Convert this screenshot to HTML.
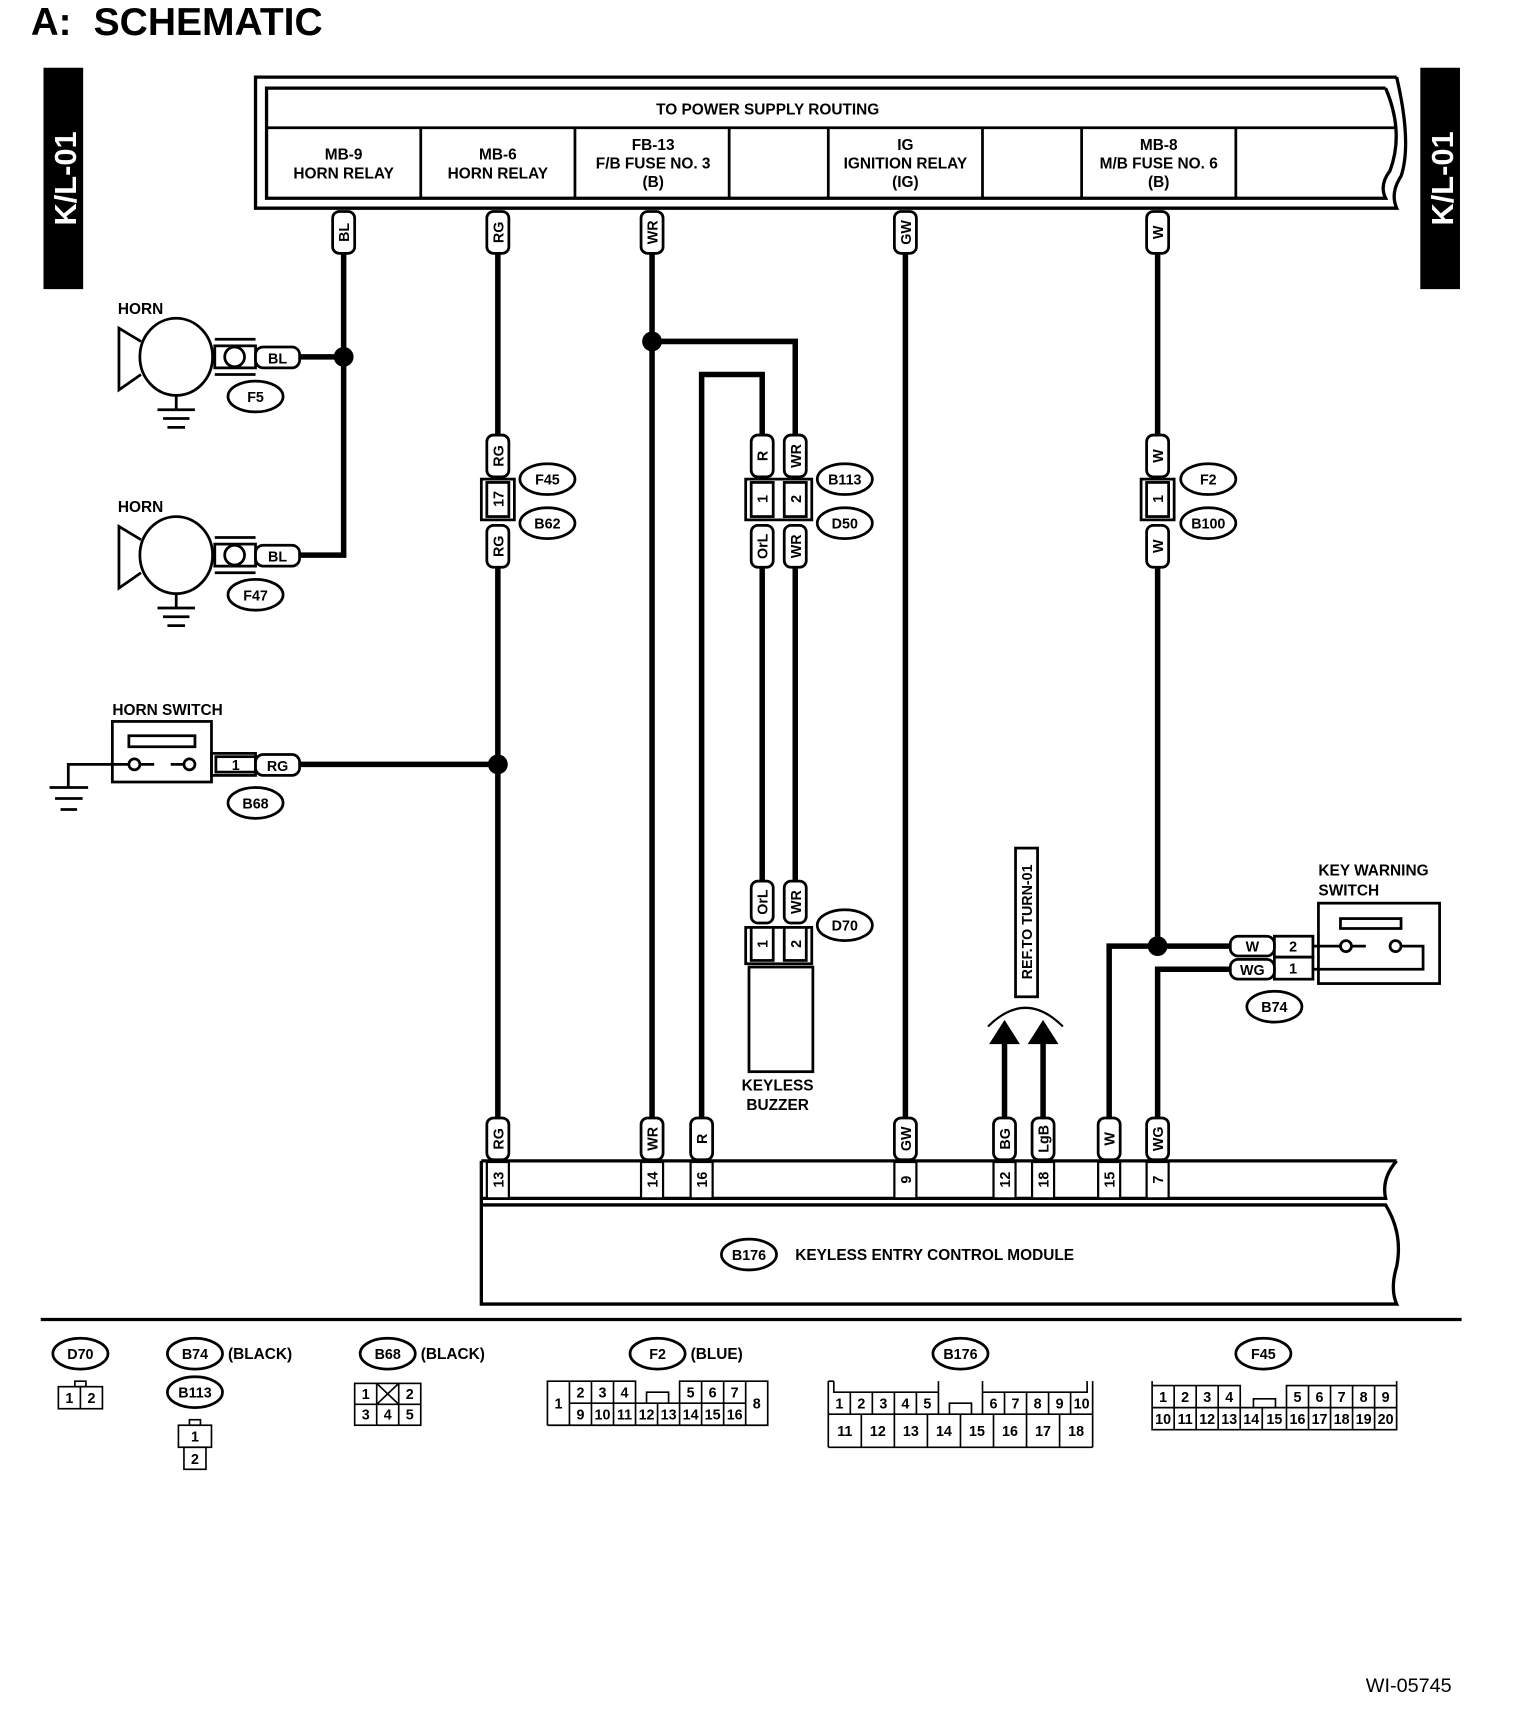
<!DOCTYPE html>
<html><head><meta charset="utf-8"><style>
html,body{margin:0;padding:0;background:#fff}
svg{display:block}
text{font-family:"Liberation Sans",sans-serif;font-weight:bold;fill:#000}
</style></head><body>
<svg width="1520" height="1730" viewBox="0 0 1380 1570.7" preserveAspectRatio="none" xmlns="http://www.w3.org/2000/svg">
<g fill="none" stroke="#000">
<text x="28" y="32" font-size="35" stroke="none">A:</text>
<text x="85" y="32" font-size="35" stroke="none" textLength="208" lengthAdjust="spacingAndGlyphs">SCHEMATIC</text>
<rect x="40" y="62" width="35" height="200" fill="#000"/>
<rect x="1290" y="62" width="35" height="200" fill="#000"/>
<text transform="translate(69,162) rotate(-90)" text-anchor="middle" font-size="28" stroke="none" style="fill:#fff">K/L-01</text>
<text transform="translate(1319,162) rotate(-90)" text-anchor="middle" font-size="28" stroke="none" style="fill:#fff">K/L-01</text>

<path d="M1268 70 H232 V189 H1268 Q1262 175 1272 160 Q1282 130 1268 70" stroke-width="3"/>
<path d="M1258 80 H242 V180 H1258 Q1252 168 1262 155 Q1275 120 1258 80" stroke-width="3"/>
<line x1="242" y1="116" x2="1268" y2="116" stroke-width="2.5"/>
<g stroke-width="2.5"><line x1="382" y1="116" x2="382" y2="180"/><line x1="522" y1="116" x2="522" y2="180"/><line x1="662" y1="116" x2="662" y2="180"/><line x1="752" y1="116" x2="752" y2="180"/><line x1="892" y1="116" x2="892" y2="180"/><line x1="982" y1="116" x2="982" y2="180"/><line x1="1122" y1="116" x2="1122" y2="180"/></g>
<g font-size="14" text-anchor="middle" stroke="none">
<text x="697" y="104">TO POWER SUPPLY ROUTING</text>
<text x="312" y="145">MB-9</text><text x="312" y="162">HORN RELAY</text>
<text x="452" y="145">MB-6</text><text x="452" y="162">HORN RELAY</text>
<text x="593" y="136">FB-13</text><text x="593" y="153">F/B FUSE NO. 3</text><text x="593" y="170">(B)</text>
<text x="822" y="136">IG</text><text x="822" y="153">IGNITION RELAY</text><text x="822" y="170">(IG)</text>
<text x="1052" y="136">MB-8</text><text x="1052" y="153">M/B FUSE NO. 6</text><text x="1052" y="170">(B)</text>
</g>

<g stroke-width="5">
<path d="M312 230 V504 H272 M312 324 H272"/>
<path d="M452 230 V395 M452 515 V1015 M272 694 H452"/>
<path d="M592 230 V1015 M592 310 H722 V395 M722 515 V800"/>
<path d="M637 1015 V340 H692 V395 M692 515 V800"/>
<path d="M822 230 V1015"/>
<path d="M1051 230 V395 M1051 515 V859 M1117 859 H1007 V1015 M1117 880 H1051 V1015"/>
<path d="M912 945 V1015 M947 945 V1015"/>
</g>
<g fill="#000" stroke="none">
<circle cx="312" cy="324" r="9"/><circle cx="452" cy="694" r="9"/><circle cx="592" cy="310" r="9"/><circle cx="1051" cy="859" r="9"/>
<path d="M912 926 L898 948 H926 Z"/><path d="M947 926 L933 948 H961 Z"/>
</g>
<path d="M897 932 Q931 898 965 932" stroke-width="2"/>

<g stroke-width="2.5" fill="#fff">
<rect x="302" y="192" width="20" height="38" rx="6"/><rect x="442" y="192" width="20" height="38" rx="6"/><rect x="582" y="192" width="20" height="38" rx="6"/><rect x="812" y="192" width="20" height="38" rx="6"/><rect x="1041" y="192" width="20" height="38" rx="6"/>
<rect x="442" y="395" width="20" height="38" rx="6"/><rect x="442" y="477" width="20" height="38" rx="6"/>
<rect x="682" y="395" width="20" height="38" rx="6"/><rect x="712" y="395" width="20" height="38" rx="6"/>
<rect x="682" y="477" width="20" height="38" rx="6"/><rect x="712" y="477" width="20" height="38" rx="6"/>
<rect x="1041" y="395" width="20" height="38" rx="6"/><rect x="1041" y="477" width="20" height="38" rx="6"/>
<rect x="682" y="800" width="20" height="38" rx="6"/><rect x="712" y="800" width="20" height="38" rx="6"/>
<rect x="442" y="1015" width="20" height="38" rx="6"/><rect x="582" y="1015" width="20" height="38" rx="6"/><rect x="627" y="1015" width="20" height="38" rx="6"/><rect x="812" y="1015" width="20" height="38" rx="6"/><rect x="902" y="1015" width="20" height="38" rx="6"/><rect x="937" y="1015" width="20" height="38" rx="6"/><rect x="997" y="1015" width="20" height="38" rx="6"/><rect x="1041" y="1015" width="20" height="38" rx="6"/>
<rect x="922" y="770" width="20" height="135"/>
</g>
<g font-size="13" text-anchor="middle" stroke="none">
<text transform="translate(317,211) rotate(-90)">BL</text>
<text transform="translate(457,211) rotate(-90)">RG</text>
<text transform="translate(597,211) rotate(-90)">WR</text>
<text transform="translate(827,211) rotate(-90)">GW</text>
<text transform="translate(1056,211) rotate(-90)">W</text>
<text transform="translate(457,414) rotate(-90)">RG</text><text transform="translate(457,496) rotate(-90)">RG</text>
<text transform="translate(697,414) rotate(-90)">R</text><text transform="translate(727,414) rotate(-90)">WR</text>
<text transform="translate(697,496) rotate(-90)">OrL</text><text transform="translate(727,496) rotate(-90)">WR</text>
<text transform="translate(1056,414) rotate(-90)">W</text><text transform="translate(1056,496) rotate(-90)">W</text>
<text transform="translate(697,819) rotate(-90)">OrL</text><text transform="translate(727,819) rotate(-90)">WR</text>
<text transform="translate(457,1034) rotate(-90)">RG</text><text transform="translate(597,1034) rotate(-90)">WR</text><text transform="translate(642,1034) rotate(-90)">R</text><text transform="translate(827,1034) rotate(-90)">GW</text><text transform="translate(917,1034) rotate(-90)">BG</text><text transform="translate(952,1034) rotate(-90)">LgB</text><text transform="translate(1012,1034) rotate(-90)">W</text><text transform="translate(1056,1034) rotate(-90)">WG</text>
<text transform="translate(937,837) rotate(-90)">REF.TO TURN-01</text>
</g>

<g stroke-width="2.5" fill="#fff">
<rect x="437" y="435" width="30" height="37"/><rect x="442" y="438" width="20" height="31"/>
<rect x="677" y="435" width="60" height="37"/><rect x="682" y="438" width="20" height="31"/><rect x="712" y="438" width="20" height="31"/>
<rect x="1036" y="435" width="30" height="37"/><rect x="1041" y="438" width="20" height="31"/>
<rect x="677" y="842" width="60" height="33"/><rect x="682" y="842" width="20" height="30"/><rect x="712" y="842" width="20" height="30"/>
<rect x="680" y="878" width="58" height="95"/>
</g>
<g font-size="13" text-anchor="middle" stroke="none">
<text transform="translate(457,453) rotate(-90)">17</text>
<text transform="translate(697,453) rotate(-90)">1</text><text transform="translate(727,453) rotate(-90)">2</text>
<text transform="translate(1056,453) rotate(-90)">1</text>
<text transform="translate(697,857) rotate(-90)">1</text><text transform="translate(727,857) rotate(-90)">2</text>
<text x="706" y="990" font-size="14">KEYLESS</text><text x="706" y="1008" font-size="14">BUZZER</text>
</g>

<g stroke-width="2.5" fill="#fff">
<ellipse cx="232" cy="360" rx="25" ry="14"/><ellipse cx="232" cy="540" rx="25" ry="14"/><ellipse cx="232" cy="729" rx="25" ry="14"/>
<ellipse cx="497" cy="435" rx="25" ry="14"/><ellipse cx="497" cy="475" rx="25" ry="14"/>
<ellipse cx="767" cy="435" rx="25" ry="14"/><ellipse cx="767" cy="475" rx="25" ry="14"/><ellipse cx="767" cy="840" rx="25" ry="14"/>
<ellipse cx="1097" cy="435" rx="25" ry="14"/><ellipse cx="1097" cy="475" rx="25" ry="14"/><ellipse cx="1157" cy="914" rx="25" ry="14"/>
<ellipse cx="680" cy="1139" rx="25" ry="14"/>
<ellipse cx="73" cy="1229" rx="25" ry="14"/><ellipse cx="177" cy="1229" rx="25" ry="14"/><ellipse cx="177" cy="1264" rx="25" ry="14"/><ellipse cx="352" cy="1229" rx="25" ry="14"/><ellipse cx="597" cy="1229" rx="25" ry="14"/><ellipse cx="872" cy="1229" rx="25" ry="14"/><ellipse cx="1147" cy="1229" rx="25" ry="14"/>
</g>
<g font-size="13" text-anchor="middle" stroke="none">
<text x="232" y="365">F5</text><text x="232" y="545">F47</text><text x="232" y="734">B68</text>
<text x="497" y="440">F45</text><text x="497" y="480">B62</text>
<text x="767" y="440">B113</text><text x="767" y="480">D50</text><text x="767" y="845">D70</text>
<text x="1097" y="440">F2</text><text x="1097" y="480">B100</text><text x="1157" y="919">B74</text>
<text x="680" y="1144">B176</text>
<text x="73" y="1234">D70</text><text x="177" y="1234">B74</text><text x="177" y="1269">B113</text><text x="352" y="1234">B68</text><text x="597" y="1234">F2</text><text x="872" y="1234">B176</text><text x="1147" y="1234">F45</text>
</g>
<g font-size="14" stroke="none">
<text x="207" y="1234">(BLACK)</text><text x="382" y="1234">(BLACK)</text><text x="627" y="1234">(BLUE)</text>
<text x="722" y="1144">KEYLESS ENTRY CONTROL MODULE</text>
<text x="107" y="285">HORN</text><text x="107" y="465">HORN</text><text x="102" y="649">HORN SWITCH</text>
<text x="1197" y="795">KEY WARNING</text><text x="1197" y="813">SWITCH</text>
<text x="1240" y="1536" font-size="18" style="font-weight:normal">WI-05745</text>
</g>

<g stroke-width="2.5">
<g>
<path d="M128 310 L108 298 V354 L128 340"/>
<ellipse cx="160" cy="324" rx="33" ry="35" fill="#fff"/>
<path d="M160 359 V372 M143 372 H177 M148 380 H172 M152 388 H168"/>
<rect x="195" y="314" width="37" height="20"/><path d="M195 308 H232 M195 340 H232"/>
<ellipse cx="213" cy="324" rx="9" ry="9"/>
<rect x="232" y="315" width="40" height="19" rx="7" fill="#fff"/>
</g>
<g transform="translate(0,180)">
<path d="M128 310 L108 298 V354 L128 340"/>
<ellipse cx="160" cy="324" rx="33" ry="35" fill="#fff"/>
<path d="M160 359 V372 M143 372 H177 M148 380 H172 M152 388 H168"/>
<rect x="195" y="314" width="37" height="20"/><path d="M195 308 H232 M195 340 H232"/>
<ellipse cx="213" cy="324" rx="9" ry="9"/>
<rect x="232" y="315" width="40" height="19" rx="7" fill="#fff"/>
</g>
<rect x="102" y="655" width="90" height="55"/><rect x="117" y="668" width="60" height="10"/>
<circle cx="122" cy="694" r="5"/><circle cx="172" cy="694" r="5"/><path d="M127 694 H140 M167 694 H155 M117 694 H62 V715 M45 715 H80 M50 725 H75 M55 735 H70"/>
<rect x="192" y="684" width="40" height="20"/><rect x="196" y="687" width="36" height="14"/>
<rect x="232" y="685" width="40" height="19" rx="7" fill="#fff"/>
<rect x="1117" y="850" width="40" height="18" rx="7" fill="#fff"/><rect x="1117" y="871" width="40" height="18" rx="7" fill="#fff"/>
<rect x="1157" y="850" width="35" height="19"/><rect x="1157" y="869" width="35" height="20"/>
<rect x="1197" y="820" width="110" height="73"/><rect x="1217" y="834" width="55" height="9"/>
<circle cx="1222" cy="859" r="5"/><circle cx="1267" cy="859" r="5"/>
<path d="M1192 859 H1217 M1227 859 H1240 M1272 859 H1292 V880 H1192"/>
</g>
<g font-size="13" text-anchor="middle" stroke="none">
<text x="252" y="330">BL</text><text x="252" y="510">BL</text><text x="252" y="700">RG</text><text x="214" y="699">1</text>
<text x="1137" y="864">W</text><text x="1137" y="885">WG</text><text x="1174" y="864">2</text><text x="1174" y="884">1</text>
</g>

<path d="M437 1054 H1268" stroke-width="3"/>
<path d="M437 1054 V1184 H1268 Q1262 1170 1268 1150 Q1274 1120 1258 1094 H437 M437 1088 H1258 Q1254 1070 1268 1054" stroke-width="3"/>
<g stroke-width="2" fill="#fff">
<rect x="442" y="1055" width="20" height="33"/><rect x="582" y="1055" width="20" height="33"/><rect x="627" y="1055" width="20" height="33"/><rect x="812" y="1055" width="20" height="33"/><rect x="902" y="1055" width="20" height="33"/><rect x="937" y="1055" width="20" height="33"/><rect x="997" y="1055" width="20" height="33"/><rect x="1041" y="1055" width="20" height="33"/>
</g>
<g font-size="13" text-anchor="middle" stroke="none">
<text transform="translate(457,1071) rotate(-90)">13</text><text transform="translate(597,1071) rotate(-90)">14</text><text transform="translate(642,1071) rotate(-90)">16</text><text transform="translate(827,1071) rotate(-90)">9</text><text transform="translate(917,1071) rotate(-90)">12</text><text transform="translate(952,1071) rotate(-90)">18</text><text transform="translate(1012,1071) rotate(-90)">15</text><text transform="translate(1056,1071) rotate(-90)">7</text>
</g>
<line x1="37" y1="1198" x2="1327" y2="1198" stroke-width="3"/>

<g stroke-width="1.5">
<rect x="53" y="1259" width="40" height="20"/><line x1="73" y1="1259" x2="73" y2="1279"/><rect x="68" y="1254" width="10" height="5"/>
<rect x="162" y="1294" width="30" height="20"/><rect x="167" y="1314" width="20" height="20"/><rect x="172" y="1289" width="10" height="5"/>
<rect x="322" y="1256" width="60" height="38"/><path d="M322 1275 H382 M342 1256 V1294 M362 1256 V1294 M342 1256 L362 1275 M362 1256 L342 1275"/>
<path d="M497 1294 V1254 H517 M517 1254 V1294 M517 1274 H677 M517 1254 H577 V1274 M587 1274 V1264 H607 V1274 M617 1274 V1254 H677 V1294 M497 1294 H697 V1254 H677"/>
<path d="M537 1254 V1294 M557 1254 V1294 M597 1274 V1294 M637 1254 V1294 M657 1254 V1294 M577 1274 V1294 M617 1274 V1294"/>
<path d="M752 1284 H992 M752 1254 V1314 M992 1254 V1314 M752 1314 H992 M757 1254 V1264 H852 V1284 M757 1254 H752 M852 1254 V1264 M892 1254 V1264 H987 V1254 M862 1284 V1274 H882 V1284 M892 1264 V1284"/>
<path d="M772 1264 V1284 M792 1264 V1284 M812 1264 V1284 M832 1264 V1284 M912 1264 V1284 M932 1264 V1284 M952 1264 V1284 M972 1264 V1284 M782 1284 V1314 M812 1284 V1314 M842 1284 V1314 M872 1284 V1314 M902 1284 V1314 M932 1284 V1314 M962 1284 V1314"/>
<path d="M1046 1254 V1298 H1268 V1254 M1046 1278 H1268 M1046 1258 H1126 V1278 M1168 1278 V1258 H1268 M1138 1278 V1270 H1158 V1278"/>
<path d="M1066 1258 V1298 M1086 1258 V1298 M1106 1258 V1298 M1126 1278 V1298 M1146 1278 V1298 M1188 1258 V1298 M1208 1258 V1298 M1228 1258 V1298 M1248 1258 V1298 M1168 1278 V1298"/>
</g>
<g font-size="13" text-anchor="middle" stroke="none" style="font-weight:normal">
<text x="63" y="1274">1</text><text x="83" y="1274">2</text>
<text x="177" y="1309">1</text><text x="177" y="1329">2</text>
<text x="332" y="1270">1</text><text x="372" y="1270">2</text><text x="332" y="1289">3</text><text x="352" y="1289">4</text><text x="372" y="1289">5</text>
<text x="507" y="1279">1</text><text x="687" y="1279">8</text>
<text x="527" y="1269">2</text><text x="547" y="1269">3</text><text x="567" y="1269">4</text><text x="627" y="1269">5</text><text x="647" y="1269">6</text><text x="667" y="1269">7</text>
<text x="527" y="1289">9</text><text x="547" y="1289">10</text><text x="567" y="1289">11</text><text x="587" y="1289">12</text><text x="607" y="1289">13</text><text x="627" y="1289">14</text><text x="647" y="1289">15</text><text x="667" y="1289">16</text>
<text x="762" y="1279">1</text><text x="782" y="1279">2</text><text x="802" y="1279">3</text><text x="822" y="1279">4</text><text x="842" y="1279">5</text><text x="902" y="1279">6</text><text x="922" y="1279">7</text><text x="942" y="1279">8</text><text x="962" y="1279">9</text><text x="982" y="1279">10</text>
<text x="767" y="1304">11</text><text x="797" y="1304">12</text><text x="827" y="1304">13</text><text x="857" y="1304">14</text><text x="887" y="1304">15</text><text x="917" y="1304">16</text><text x="947" y="1304">17</text><text x="977" y="1304">18</text>
<text x="1056" y="1273">1</text><text x="1076" y="1273">2</text><text x="1096" y="1273">3</text><text x="1116" y="1273">4</text><text x="1178" y="1273">5</text><text x="1198" y="1273">6</text><text x="1218" y="1273">7</text><text x="1238" y="1273">8</text><text x="1258" y="1273">9</text>
<text x="1056" y="1293">10</text><text x="1076" y="1293">11</text><text x="1096" y="1293">12</text><text x="1116" y="1293">13</text><text x="1136" y="1293">14</text><text x="1157" y="1293">15</text><text x="1178" y="1293">16</text><text x="1198" y="1293">17</text><text x="1218" y="1293">18</text><text x="1238" y="1293">19</text><text x="1258" y="1293">20</text>
</g>
</g>
</svg>
</body></html>
